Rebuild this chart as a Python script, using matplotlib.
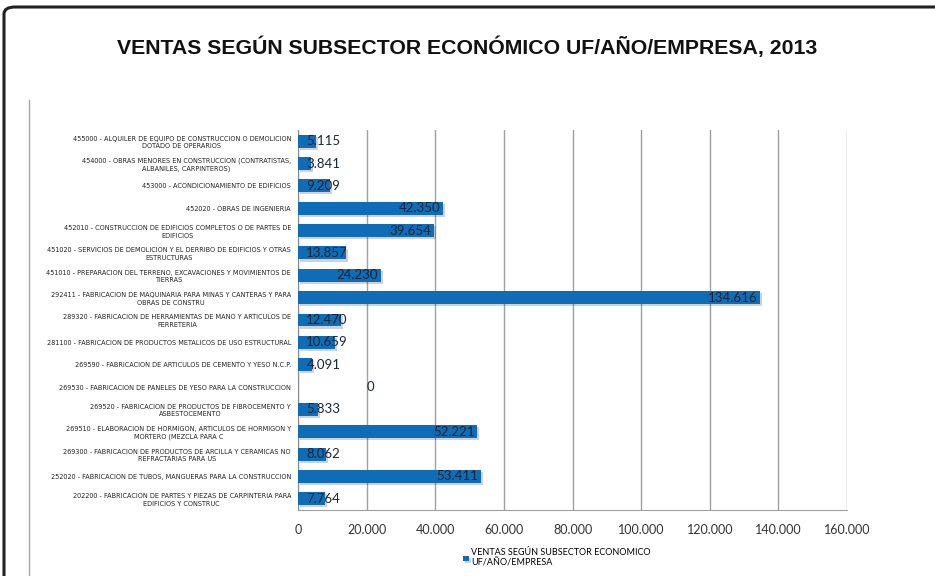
import numpy as np
import matplotlib
matplotlib.use('Agg')
import matplotlib.pyplot as plt
import matplotlib.patheffects as pe
from matplotlib.patches import FancyBboxPatch
from matplotlib.lines import Line2D
from matplotlib.ticker import FuncFormatter

# datos (de arriba hacia abajo)
categorias = [
    '455000 - ALQUILER DE EQUIPO DE CONSTRUCCION O DEMOLICION\nDOTADO DE OPERARIOS',
    '454000 - OBRAS MENORES EN CONSTRUCCION (CONTRATISTAS,\nALBANILES, CARPINTEROS)',
    '453000 - ACONDICIONAMIENTO DE EDIFICIOS',
    '452020 - OBRAS DE INGENIERIA',
    '452010 - CONSTRUCCION DE EDIFICIOS COMPLETOS O DE PARTES DE\nEDIFICIOS',
    '451020 - SERVICIOS DE DEMOLICION Y EL DERRIBO DE EDIFICIOS Y OTRAS\nESTRUCTURAS',
    '451010 - PREPARACION DEL TERRENO, EXCAVACIONES Y MOVIMIENTOS DE\nTIERRAS',
    '292411 - FABRICACION DE MAQUINARIA PARA MINAS Y CANTERAS Y PARA\nOBRAS DE CONSTRU',
    '289320 - FABRICACION DE HERRAMIENTAS DE MANO Y ARTICULOS DE\nFERRETERIA',
    '281100 - FABRICACION DE PRODUCTOS METALICOS DE USO ESTRUCTURAL',
    '269590 - FABRICACION DE ARTICULOS DE CEMENTO Y YESO N.C.P.',
    '269530 - FABRICACION DE PANELES DE YESO PARA LA CONSTRUCCION',
    '269520 - FABRICACION DE PRODUCTOS DE FIBROCEMENTO Y\nASBESTOCEMENTO',
    '269510 - ELABORACION DE HORMIGON, ARTICULOS DE HORMIGON Y\nMORTERO (MEZCLA PARA C',
    '269300 - FABRICACION DE PRODUCTOS DE ARCILLA Y CERAMICAS NO\nREFRACTARIAS PARA US',
    '252020 - FABRICACION DE TUBOS, MANGUERAS PARA LA CONSTRUCCION',
    '202200 - FABRICACION DE PARTES Y PIEZAS DE CARPINTERIA PARA\nEDIFICIOS Y CONSTRUC',
]
ventas = [5115, 3841, 9209, 42350, 39654, 13857, 24230, 134616, 12470,
          10659, 4091, 0, 5833, 52221, 8062, 53411, 7764]
ticks_x = [0, 20000, 40000, 60000, 80000, 100000, 120000, 140000, 160000]

titulo = 'VENTAS SEGÚN SUBSECTOR ECONÓMICO UF/AÑO/EMPRESA, 2013'
serie = 'VENTAS SEGÚN SUBSECTOR ECONOMICO\nUF/AÑO/EMPRESA'

AZUL = '#0f6cb6'

def miles(v, pos=None):
    return '{:,.0f}'.format(v).replace(',', '.')

fig = plt.figure(figsize=(9.35, 5.76), dpi=100)
fig.patch.set_facecolor('white')

# marco exterior
W, H = 935.0, 576.0
marco = FancyBboxPatch((4/W, -0.1), 1.2, (576-7)/H + 0.1,
                       boxstyle='round,pad=0,rounding_size=0.012',
                       transform=fig.transFigure, fill=False,
                       edgecolor='#222222', linewidth=2.2)
fig.patches.append(marco)
fig.lines.append(Line2D([29/W, 29/W], [0, 1-100/H], transform=fig.transFigure,
                        color='#a8a8a8', linewidth=1))

fig.text(0.5, 1-47/H, titulo, ha='center', va='center',
         fontsize=15.3, fontweight='bold', family='Liberation Sans', color='#111111')

ax = fig.add_axes([298/W, 1-510/H, (847-298)/W, (510-130)/H])
y = np.arange(len(categorias))
barras = ax.barh(y, ventas, height=0.58, color=AZUL, label=serie, zorder=3)
for b in barras:
    b.set_path_effects([pe.SimplePatchShadow(offset=(1.5, -1.5), alpha=0.2), pe.Normal()])

ax.set_xlim(0, 160000)
ax.set_ylim(len(categorias)-0.5, -0.5)
ax.set_xticks(ticks_x)
ax.xaxis.set_major_formatter(FuncFormatter(miles))
ax.set_yticks(y)
ax.set_yticklabels(categorias, fontsize=4.7, family='DejaVu Sans',
                   multialignment='center', color='#222222', linespacing=1.3)
ax.tick_params(axis='both', length=0)
ax.tick_params(axis='y', pad=5)
ax.tick_params(axis='x', pad=10, labelsize=9, labelcolor='#333333')
for t in ax.get_xticklabels():
    t.set_family('Lato')

ax.grid(axis='x', color='#a0a0a0', linewidth=1, zorder=0)
for s in ['top', 'right']:
    ax.spines[s].set_visible(False)
ax.spines['left'].set_color('#888888')
ax.spines['bottom'].set_color('#a0a0a0')

# etiquetas de valores
for yi, v in zip(y, ventas):
    if v == 0:
        ax.annotate(miles(v), (0, yi), xytext=(52, 0), textcoords='offset points',
                    ha='center', va='center', fontsize=9.5, family='Lato', color='#1a2535')
    elif v < 15000:
        ax.annotate(miles(v), (0, yi), xytext=(6, 0), textcoords='offset points',
                    ha='left', va='center', fontsize=9.5, family='Lato', color='#1a2535', zorder=5)
    else:
        ax.annotate(miles(v), (v, yi), xytext=(-2, 0), textcoords='offset points',
                    ha='right', va='center', fontsize=9.5, family='Lato', color='#1a2535', zorder=5)

fig.legend(loc='upper left', bbox_to_anchor=(455/W, 1-540/H), frameon=False,
           handlelength=0.6, handleheight=0.6, handletextpad=0.3,
           prop={'family': 'Lato', 'size': 6.5})

fig.savefig('out.png', dpi=100)
